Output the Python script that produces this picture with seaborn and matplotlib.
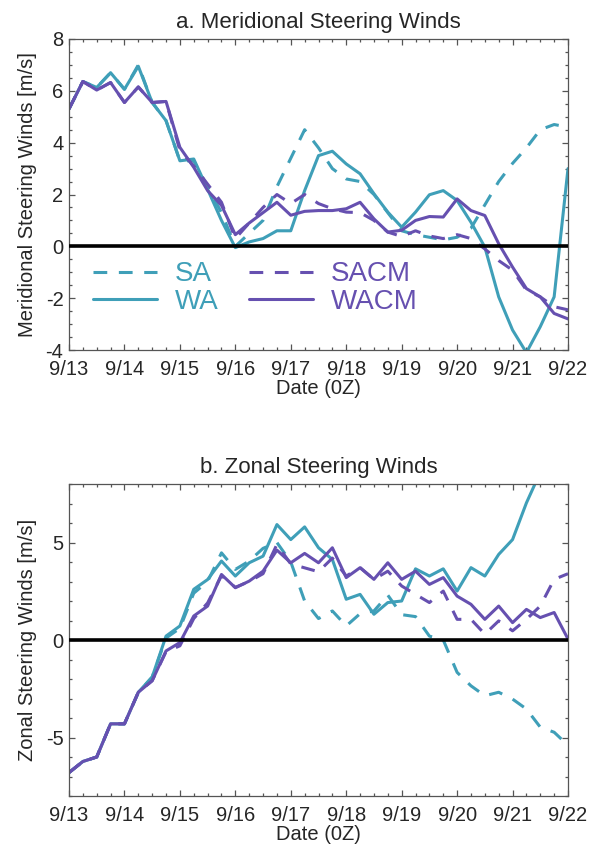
import numpy as np
import pandas as pd
import seaborn as sns
import matplotlib.pyplot as plt
from matplotlib.ticker import MultipleLocator

# 6-hourly steering winds, 9/13 00Z .. 9/22 00Z (37 points)
days = 13 + 0.25 * np.arange(37)
day_labels = [f"9/{d}" for d in range(13, 23)]

merid_sa = [5.3, 6.36, 6.13, 6.7, 6.06, 7.0, 5.55, 4.85, 3.3, 3.3, 2.3, 1.3,
            0.0, 0.5, 1.0, 2.3, 3.4, 4.5, 3.8, 3.0, 2.6, 2.5, 2.0, 1.3, 0.6,
            0.45, 0.35, 0.25, 0.35, 0.7, 1.6, 2.5, 3.2, 3.8, 4.5, 4.7, 4.6]
merid_wa = [5.3, 6.36, 6.13, 6.7, 6.06, 6.95, 5.55, 4.85, 3.3, 3.37, 2.2, 1.0,
            -0.05, 0.17, 0.3, 0.6, 0.6, 2.15, 3.5, 3.67, 3.18, 2.8, 2.03, 1.32,
            0.74, 1.32, 1.99, 2.15, 1.77, 0.93, -0.03, -1.95, -3.23, -4.1, -3.1,
            -1.95, 3.0]
merid_sacm = [5.3, 6.36, 6.03, 6.32, 5.55, 6.15, 5.55, 5.59, 3.7, 3.1, 2.4, 1.7,
              0.3, 0.9, 1.5, 2.0, 1.65, 2.0, 1.65, 1.45, 1.32, 1.3, 1.0, 0.55,
              0.38, 0.6, 0.4, 0.3, 0.45, 0.3, -0.1, -0.55, -0.92, -1.69, -1.95,
              -2.33, -2.45]
merid_wacm = [5.3, 6.36, 6.03, 6.32, 5.55, 6.15, 5.55, 5.59, 3.82, 3.05, 2.15,
              1.58, 0.45, 0.9, 1.3, 1.7, 1.2, 1.35, 1.38, 1.38, 1.45, 1.7, 1.06,
              0.55, 0.62, 1.0, 1.15, 1.13, 1.83, 1.38, 1.19, 0.1, -0.8, -1.63,
              -1.95, -2.59, -2.8]

zonal_sa = [-6.8, -6.23, -6.0, -4.3, -4.3, -2.7, -1.9, 0.1, 0.6, 2.4, 3.0, 4.47,
            3.62, 4.05, 4.7, 5.0, 4.0, 2.0, 1.1, 1.49, 0.72, 1.35, 1.49, 2.3, 1.3,
            1.2, 0.2, 0.0, -1.66, -2.35, -2.86, -2.68, -3.03, -3.54, -4.47,
            -4.73, -5.4]
zonal_wa = [-6.8, -6.23, -6.0, -4.3, -4.3, -2.68, -1.9, 0.2, 0.72, 2.6, 3.1, 4.05,
            3.28, 3.96, 4.3, 5.92, 5.15, 5.8, 4.73, 4.13, 2.09, 2.34, 1.32, 1.92,
            2.0, 3.65, 3.28, 3.65, 2.51, 3.71, 3.28, 4.39, 5.15, 7.03, 8.6, 9.4,
            10.2]
zonal_sacm = [-6.8, -6.23, -6.0, -4.3, -4.3, -2.68, -2.09, -0.6, -0.3, 1.1, 1.9,
              3.3, 2.7, 3.0, 3.4, 4.9, 3.9, 3.7, 3.5, 4.2, 3.28, 3.71, 3.11, 3.53,
              2.77, 2.34, 1.92, 2.51, 1.06, 1.06, 0.3, 0.98, 0.47, 1.06, 1.74,
              3.11, 3.4]
zonal_wacm = [-6.8, -6.23, -6.0, -4.3, -4.3, -2.68, -2.09, -0.56, -0.13, 1.23,
              1.74, 3.36, 2.68, 3.02, 3.53, 4.61, 3.96, 4.44, 3.96, 4.73, 3.2,
              3.71, 3.11, 3.96, 3.11, 3.53, 2.85, 3.2, 2.25, 1.83, 1.06, 1.74,
              0.89, 1.57, 1.15, 1.41, 0.05]

TEAL = "#3f9fb8"
PURPLE = "#6650b0"

sns.set_style("ticks")
plt.rcParams["font.family"] = ["Liberation Sans", "DejaVu Sans"]
plt.rcParams["axes.unicode_minus"] = False
plt.rcParams["lines.dashed_pattern"] = [4.5, 3.8]

fig = plt.figure(figsize=(5.92, 8.52), dpi=100)
ax_top = fig.add_axes([69 / 592, 1 - 350 / 852, 499 / 592, 311 / 852])
ax_bot = fig.add_axes([69 / 592, 1 - 796 / 852, 499 / 592, 312 / 852])

panels = [
    (ax_top, [merid_sa, merid_wa, merid_sacm, merid_wacm],
     "a. Meridional Steering Winds", "Meridional Steering Winds [m/s]",
     (-4, 8), 2, 0.5),
    (ax_bot, [zonal_sa, zonal_wa, zonal_sacm, zonal_wacm],
     "b. Zonal Steering Winds", "Zonal Steering Winds [m/s]",
     (-8, 8), 5, 1),
]

names = ["SA", "WA", "SACM", "WACM"]
colors = [TEAL, TEAL, PURPLE, PURPLE]
styles = ["--", "-", "--", "-"]

for ax, series, title, ylabel, ylim, major, minor in panels:
    for name, vals, col, ls in zip(names, series, colors, styles):
        sns.lineplot(x=days, y=vals, ax=ax, color=col, linestyle=ls,
                     linewidth=2.2, label=name, legend=False)
    ax.axhline(0, color="black", linewidth=2.6, zorder=5)
    ax.set_xlim(13, 22)
    ax.set_ylim(*ylim)
    ax.set_xticks(range(13, 23))
    ax.set_xticklabels(day_labels)
    ax.xaxis.set_minor_locator(MultipleLocator(0.25))
    ax.yaxis.set_major_locator(MultipleLocator(major))
    ax.yaxis.set_minor_locator(MultipleLocator(minor))
    ax.tick_params(which="both", direction="in", top=True, right=True,
                   color="#555555", labelsize=14.5)
    ax.tick_params(which="major", length=4.5, width=0.9)
    ax.tick_params(which="minor", length=2.3, width=0.9)
    ax.tick_params(axis="x", pad=7)
    ax.tick_params(axis="y", pad=4)
    for sp in ax.spines.values():
        sp.set_color("#555555")
        sp.set_linewidth(0.9)
    ax.set_title(title, fontsize=16, pad=8)
    ax.set_xlabel("Date (0Z)", fontsize=14.5, labelpad=0)
    ax.set_ylabel(ylabel, fontsize=14.5, labelpad=6)

handles = ax_top.get_lines()[:4]
ax_top.legend(handles, names, ncol=2, loc="upper left",
              bbox_to_anchor=(0.048, 0.285), borderaxespad=0, borderpad=0,
              frameon=False, fontsize=20, labelcolor="linecolor",
              handlelength=2.3, handletextpad=0.65, columnspacing=1.1,
              labelspacing=0.05)

fig.savefig("out.png", dpi=100)
